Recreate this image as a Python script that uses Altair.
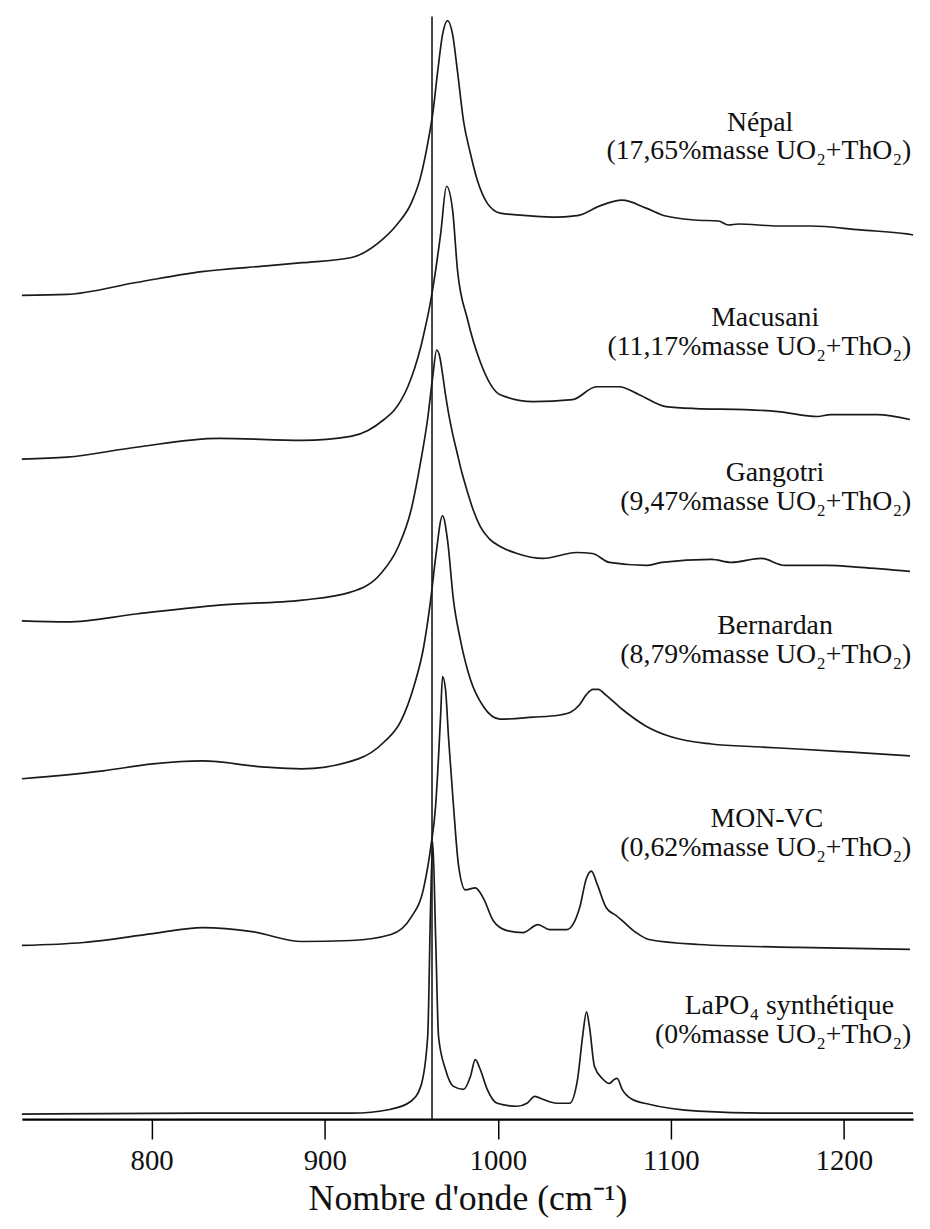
import altair as alt
import pandas as pd

# Wavenumbers (cm-1) and stacked intensities (arbitrary units, offset per spectrum)
nepal_x = [725, 751, 791, 829, 868, 887, 915, 931, 942, 950, 955.5, 959.5, 962.4, 965.3, 968.1, 971, 973.9,
           976.7, 980.2, 984.2, 988.2, 993.9, 1001.4, 1020.3, 1034, 1043.2, 1047.3, 1058.7, 1071.9, 1085.7,
           1097.1, 1114.3, 1127.5, 1133.3, 1139, 1161.9, 1180.9, 1209.5, 1236.5, 1240]
nepal_y = [830, 831, 843, 854, 860, 863, 868, 883, 902, 923, 950, 983, 1013, 1056, 1093, 1107, 1093,
           1056, 1006, 973, 946, 923, 913, 910, 909, 910, 911, 920, 926, 918,
           910, 906, 905, 901, 902, 900, 900, 896, 892, 891]

macusani_x = [725, 751, 791, 839, 887, 915, 925, 934.3, 940, 944, 948, 952, 955.5, 958, 960.1, 963, 967,
              970.4, 973.9, 976.7, 982.5, 989.9, 1001.4, 1020.3, 1043.2, 1057, 1070.2, 1081.7, 1097.1,
              1114.3, 1143, 1161.9, 1184.9, 1192.3, 1219.3, 1238.2]
macusani_y = [665, 667, 677, 686, 684, 688, 694, 705, 714, 724, 738, 757, 778, 797, 814, 843, 892,
              940, 916, 856, 806, 763, 730, 723, 725, 738, 738, 730, 718,
              716, 715, 713, 708, 710, 710, 705]

gangotri_x = [725, 751, 791, 839, 887, 915, 932.6, 942.3, 949.8, 955.5, 959.5, 962.4, 964.7, 966.5, 968,
              969.8, 971.5, 973.5, 976.7, 979.5, 982.5, 986, 989.9, 995, 1001.4, 1011.1, 1026, 1045.5,
              1054.7, 1064.5, 1085.7, 1094.8, 1123.5, 1135, 1152.2, 1165.9, 1190.6, 1209.5, 1238.2]
gangotri_y = [502, 501, 509, 518, 523, 531, 550, 576, 613, 663, 706, 748, 775, 768, 752,
              730, 712, 694, 670, 650, 632, 613, 597, 585, 577, 570, 565, 571,
              570, 561, 558, 561, 564, 561, 565, 558, 558, 556, 552]

bernardan_x = [725, 772, 800.7, 829.4, 863.8, 886.7, 919.4, 934.3, 944, 951.5, 957.2, 961.2, 964.1, 968.1,
               971, 974.4, 978.4, 984.2, 991.6, 1001.4, 1020.3, 1035, 1042, 1047, 1051.3, 1055, 1058,
               1062.7, 1071.9, 1085.7, 1100.6, 1123.5, 1152.2, 1173.3, 1202.1, 1238.2]
bernardan_y = [343, 351, 358, 361, 355, 353, 363, 380, 401, 436, 476, 523, 566, 608,
               583, 523, 483, 443, 416, 403, 405, 407, 410, 417, 428, 433, 433,
               427, 413, 396, 385, 378, 375, 373, 370, 366]

monvc_x = [725, 760.6, 800.7, 829.4, 858, 886.7, 915.4, 938.3, 949.8, 957.2, 961.2, 964.1, 965.8, 967,
           968.1, 969.8, 971.6, 974.4, 977.3, 981.3, 987, 991.6, 997.4, 1005.4, 1014.6, 1023.2, 1030,
           1039.8, 1047.3, 1051.3, 1054.1, 1057.6, 1062.7, 1068.5, 1071.9, 1079.9, 1087.4, 1116.1,
           1173.3, 1238.2]
monvc_y = [175, 178, 187, 193, 189, 179, 180, 186, 203, 233, 273, 316, 366, 408,
           446, 433, 383, 316, 256, 231, 233, 223, 200, 190, 188, 196, 191,
           191, 213, 243, 250, 236, 213, 205, 200, 188, 181, 176,
           173, 171]

lapo4_x = [725, 829.4, 915.4, 938.3, 949.8, 955.5, 959.5, 961.2, 962.4, 964.1, 965.8, 969.8, 974.4, 980.2,
           984.2, 987, 989.9, 993.9, 999.7, 1011.1, 1016.9, 1021.4, 1026, 1034.1, 1041.5, 1046.1, 1049,
           1051.3, 1053, 1055.9, 1060.4, 1064.5, 1067.3, 1069, 1071.9, 1077.6, 1087.4, 1116.1, 1154.5,
           1192.3, 1240]
lapo4_y = [5, 6, 6, 10, 18, 33, 83, 216, 280, 183, 83, 50, 33, 30,
           43, 60, 50, 30, 16, 13, 16, 23, 20, 16, 16, 40, 83,
           108, 93, 53, 41, 36, 40, 41, 30, 20, 15, 8, 6,
           6, 6]

# Reference line (LaPO4 main band)
ref_wavenumber = 962
ref_y = [0, 1111]

# Labels
label_names = ["Népal", "Macusani", "Gangotri", "Bernardan", "MON-VC", "LaPO₄ synthétique"]
label_subs = ["(17,65%masse UO₂+ThO₂)", "(11,17%masse UO₂+ThO₂)", "(9,47%masse UO₂+ThO₂)",
              "(8,79%masse UO₂+ThO₂)", "(0,62%masse UO₂+ThO₂)", "(0%masse UO₂+ThO₂)"]
label_center_x = [1151.6, 1154.5, 1160.2, 1160.2, 1155.5, 1168.5]
label_right_x = [1239, 1239, 1239, 1239, 1239, 1239]
label_y1 = [1004, 807, 651, 497, 302, 114]
label_y2 = [975, 778, 622, 468, 273, 85]

series = [("Népal", nepal_x, nepal_y), ("Macusani", macusani_x, macusani_y),
          ("Gangotri", gangotri_x, gangotri_y), ("Bernardan", bernardan_x, bernardan_y),
          ("MON-VC", monvc_x, monvc_y), ("LaPO4", lapo4_x, lapo4_y)]
rows = []
for name, xs, ys in series:
    for i, (a, b) in enumerate(zip(xs, ys)):
        rows.append({"sample": name, "wn": a, "I": b, "o": i})
spectra = pd.DataFrame(rows)

ref_df = pd.DataFrame({"wn": [ref_wavenumber], "y0": [ref_y[0]], "y1": [ref_y[1]]})
labels = pd.DataFrame({"name": label_names, "sub": label_subs, "xc": label_center_x,
                       "xr": label_right_x, "y1": label_y1, "y2": label_y2})

FONT = "Liberation Serif"
x_scale = alt.Scale(domain=[725, 1240], nice=False, zero=False)
y_scale = alt.Scale(domain=[0, 1113], nice=False, zero=False)

x_axis = alt.Axis(values=[800, 900, 1000, 1100, 1200], format="d", title="Nombre d'onde (cm⁻¹)",
                  grid=False, domainColor="black", domainWidth=2.5, tickColor="black",
                  tickWidth=1.5, tickSize=20, labelFont=FONT, labelFontSize=29,
                  labelColor="#111", labelPadding=8, titleFont=FONT, titleFontSize=36,
                  titleFontWeight="normal", titleColor="#111", titlePadding=6)

lines = alt.Chart(spectra).mark_line(color="#1a1a1a", strokeWidth=1.7, interpolate="monotone").encode(
    x=alt.X("wn:Q", scale=x_scale, axis=x_axis),
    y=alt.Y("I:Q", scale=y_scale, axis=None),
    detail="sample:N",
    order="o:Q",
)

rule = alt.Chart(ref_df).mark_rule(color="#1a1a1a", strokeWidth=1.6).encode(
    x=alt.X("wn:Q", scale=x_scale),
    y=alt.Y("y0:Q", scale=y_scale),
    y2="y1:Q",
)

text1 = alt.Chart(labels).mark_text(font=FONT, fontSize=28, align="center", baseline="middle",
                                    color="#111").encode(
    x=alt.X("xc:Q", scale=x_scale), y=alt.Y("y1:Q", scale=y_scale), text="name:N")
text2 = alt.Chart(labels).mark_text(font=FONT, fontSize=28, align="right", baseline="middle",
                                    color="#111").encode(
    x=alt.X("xr:Q", scale=x_scale), y=alt.Y("y2:Q", scale=y_scale), text="sub:N")

chart = alt.layer(lines, rule, text1, text2).properties(
    width=898, height=1113,
    padding={"left": 10, "top": 2, "right": 5, "bottom": 0},
    background="white",
).configure_view(stroke=None)

chart.save("out.html", embed_options={"renderer": "svg", "actions": False})
